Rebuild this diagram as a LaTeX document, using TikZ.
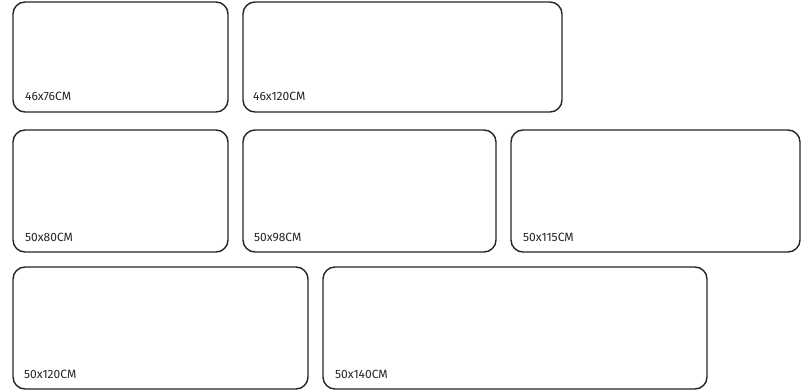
\documentclass[tikz,border=0pt]{standalone}
\usepackage{fontspec}
\setmainfont{Fira Sans}
\begin{document}
\begin{tikzpicture}[x=1pt,y=-1pt,
  pad/.style={draw=black!85,line width=1.4pt,rounded corners=12pt,fill=white},
  lbl/.style={anchor=base west,inner sep=0pt,font=\fontsize{12}{14}\selectfont,text=black!85}]
\useasboundingbox (0,0) rectangle (801,390);
\fill[white] (0,0) rectangle (801,390);
\draw[pad] (13,2) rectangle (228,112);
\draw[pad] (243,2) rectangle (562,112);
\draw[pad] (13,130) rectangle (228,252);
\draw[pad] (243,130) rectangle (496,252);
\draw[pad] (511,130) rectangle (800,252);
\draw[pad] (13,267) rectangle (308,389);
\draw[pad] (323,267) rectangle (707,389);
\node[lbl] (t1) at (25,101) {46x76CM};
\node[lbl] (t2) at (253,101) {46x120CM};
\node[lbl] (t3) at (25,242) {50x80CM};
\node[lbl] (t4) at (254,242) {50x98CM};
\node[lbl] (t5) at (523,242) {50x115CM};
\node[lbl] (t6) at (24,378) {50x120CM};
\node[lbl] (t7) at (335,378) {50x140CM};
\end{tikzpicture}
\end{document}
